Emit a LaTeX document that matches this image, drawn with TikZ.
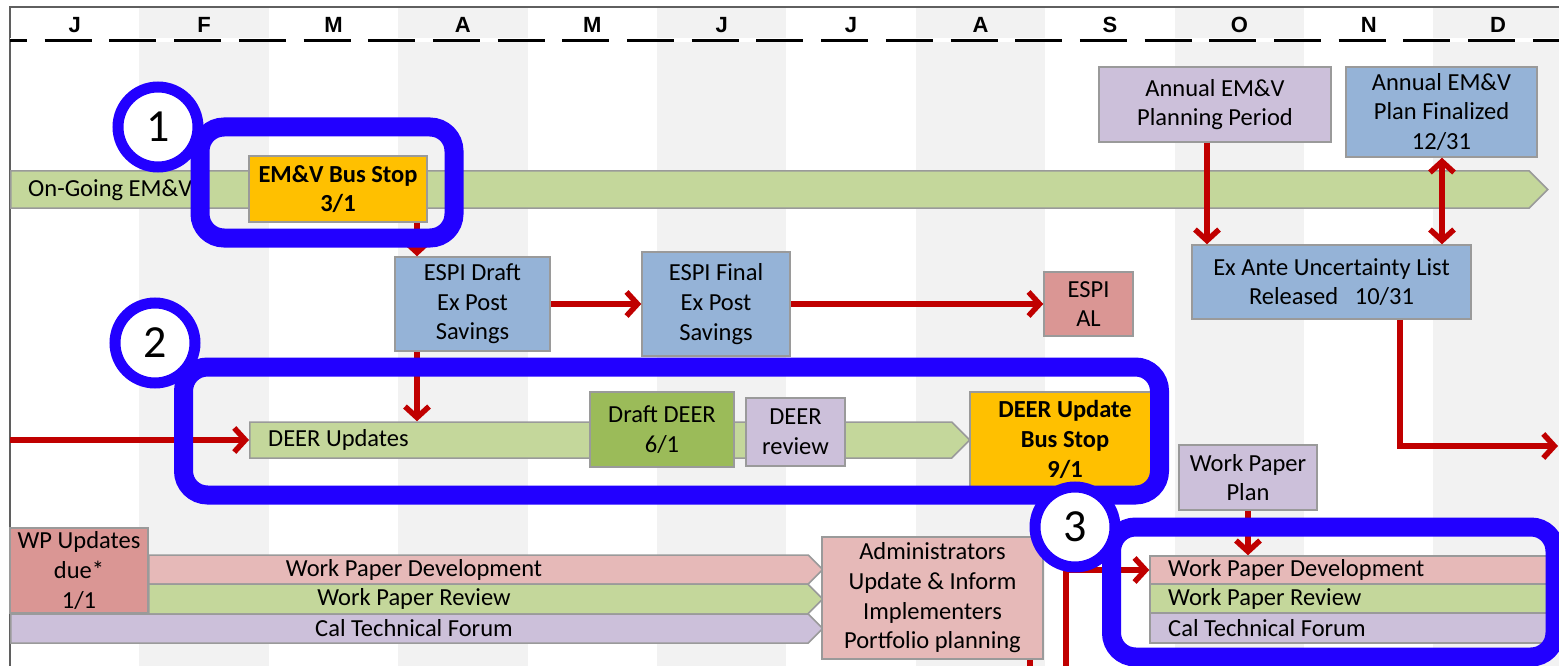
\documentclass[tikz,border=0pt]{standalone}
\usepackage{fontspec}
\setmainfont{Carlito}
\newfontfamily\hdrfont{Liberation Sans}
\usetikzlibrary{arrows.meta,shapes.symbols}

\definecolor{colgray}{HTML}{F2F2F2}
\definecolor{framegray}{HTML}{5F5F5F}
\definecolor{edgegray}{HTML}{9A9A9A}
\definecolor{barGreen}{HTML}{C4D79B}
\definecolor{boxOrange}{HTML}{FFC000}
\definecolor{boxBlue}{HTML}{95B3D7}
\definecolor{boxLav}{HTML}{CCC0DA}
\definecolor{boxPink}{HTML}{E6B9B8}
\definecolor{boxRose}{HTML}{DA9694}
\definecolor{boxOlive}{HTML}{9BBB59}
\definecolor{linkRed}{HTML}{C00000}
\definecolor{ringBlue}{HTML}{2200FF}

\tikzset{
  txt/.style={font=\fontsize{24.5}{29.7}\selectfont, text=black, inner sep=0pt},
  boldtxt/.style={font=\fontsize{24.5}{29.7}\selectfont\bfseries},
  box/.style={txt, draw=edgegray, line width=1.5pt, align=center},
  bar/.style={draw=edgegray, line width=1.5pt, inner sep=0pt, shape=signal,
    signal to=east, signal pointer angle=90, anchor=west},
  redline/.style={draw=linkRed, line width=5.5pt},
  link/.style={redline, -{Straight Barb[length=11pt,width=24pt]}},
  twolink/.style={redline, {Straight Barb[length=11pt,width=24pt]}-{Straight Barb[length=11pt,width=24pt]}},
  ring/.style={draw=ringBlue, line width=19pt, rounded corners=24pt},
  badge/.style={circle, fill=white, draw=ringBlue, line width=11pt, minimum size=80pt,
    inner sep=0pt, font=\fontsize{46}{46}\selectfont},
  month/.style={font=\hdrfont\bfseries\fontsize{22}{22}\selectfont, inner sep=0pt}
}

\begin{document}
\begin{tikzpicture}[x=1pt,y=-1pt]
\useasboundingbox (0,0) rectangle (1559,666);
\clip (0,0) rectangle (1559,666);

% month columns
\foreach \i in {1,3,5,7,9,11}
  \fill[colgray] ({10+129.4*\i},7) rectangle ({10+129.4*(\i+1)},666);

% frame
\draw[framegray, line width=2pt] (10,666) -- (10,7) -- (1559,7);

% month header
\draw[white, line width=4pt] (10,40.5) -- (1559,40.5);
\draw[black, line width=3pt, dash pattern=on 47pt off 17.7pt, dash phase=30pt] (10,40.5) -- (1559,40.5);
\foreach \m [count=\i from 0] in {J,F,M,A,M,J,J,A,S,O,N,D}
  \node[month] (mon\i) at ({10+129.4*(\i+0.5)},25) {\m};

% EM&V track
\node[bar, fill=barGreen, minimum width=1537pt, minimum height=37pt] (ongoing) at (10,189.5) {};
\node[txt, anchor=west] (ongoingtxt) at (28,190) {On-Going EM\&V};
\node[box, boldtxt, fill=boxOrange, minimum width=178pt, minimum height=66pt] (busstop) at (338,189) {EM\&V Bus Stop\\3/1};

\node[box, fill=boxBlue, minimum width=155pt, minimum height=94pt] (espidraft) at (472.5,304) {ESPI Draft\\Ex Post\\Savings};
\node[box, fill=boxBlue, minimum width=148pt, minimum height=104pt] (espifinal) at (716,304) {ESPI Final\\Ex Post\\Savings};
\node[box, fill=boxRose, minimum width=89pt, minimum height=64pt] (espial) at (1088.5,304) {ESPI\\AL};

\node[box, fill=boxLav, minimum width=232pt, minimum height=75pt] (planperiod) at (1215,104.5) {Annual EM\&V\\Planning Period};
\node[box, fill=boxBlue, minimum width=191pt, minimum height=90pt] (planfinal) at (1441.5,112) {Annual EM\&V\\Plan Finalized\\12/31};
\node[box, fill=boxBlue, minimum width=279pt, minimum height=74pt] (exante) at (1331.5,282) {Ex Ante Uncertainty List\\Released~~~10/31};

% DEER track
\node[bar, fill=barGreen, minimum width=720pt, minimum height=36pt] (deerupd) at (249,440) {};
\node[txt, anchor=west] (deertxt) at (268,440) {DEER Updates};
\node[box, fill=boxOlive, minimum width=144pt, minimum height=75pt] (draftdeer) at (662,429.5) {Draft DEER\\6/1};
\node[box, fill=boxLav, minimum width=99pt, minimum height=68pt] (deerreview) at (795.5,432) {DEER\\review};
\node[box, boldtxt, fill=boxOrange, minimum width=190pt, minimum height=95pt] (deerbus) at (1065,439.5) {DEER Update\\Bus Stop\\9/1};

% work paper track (left)
\node[box, fill=boxRose, minimum width=138pt, minimum height=85pt] (wpdue) at (79,570.5) {WP Updates\\due*\\1/1};
\node[bar, fill=boxPink, minimum width=674pt, minimum height=29pt] (lwpd) at (148,569.5) {};
\node[bar, fill=barGreen, minimum width=674pt, minimum height=30pt] (lwpr) at (148,599) {};
\node[bar, fill=boxLav, minimum width=812pt, minimum height=29pt] (lctf) at (10,628.5) {};
\node[txt] (lwpdtxt) at (414,569.5) {Work Paper Development};
\node[txt] (lwprtxt) at (414,599) {Work Paper Review};
\node[txt] (lctftxt) at (414,628.5) {Cal Technical Forum};
\node[box, fill=boxPink, minimum width=221pt, minimum height=122pt] (admin) at (932.5,598) {Administrators\\Update \& Inform\\Implementers\\Portfolio planning};

% work paper track (right)
\node[box, fill=boxLav, minimum width=138pt, minimum height=65pt] (wpplan) at (1248,477.5) {Work Paper\\Plan};
\node[box, fill=boxPink, minimum width=399pt, minimum height=28pt] (rwpd) at (1349.5,570) {};
\node[box, fill=barGreen, minimum width=399pt, minimum height=29pt] (rwpr) at (1349.5,598.5) {};
\node[box, fill=boxLav, minimum width=399pt, minimum height=30pt] (rctf) at (1349.5,628) {};
\node[txt, anchor=west] (rwpdtxt) at (1168,570) {Work Paper Development};
\node[txt, anchor=west] (rwprtxt) at (1168,598.5) {Work Paper Review};
\node[txt, anchor=west] (rctftxt) at (1168,628) {Cal Technical Forum};

% connectors
\coordinate (xa) at (417,0);
\coordinate (xb) at (1207,0);
\coordinate (xc) at (1442,0);
\coordinate (xd) at (1400,0);
\coordinate (xe) at (1248,0);
\coordinate (leftin) at (10,440);
\coordinate (rightout) at (1558,446);
\coordinate (botin) at (1066,670);
\coordinate (botout) at (1030,670);

\draw[link] (busstop.south -| xa) -- (espidraft.north -| xa);
\draw[link] (espidraft.south -| xa) -- (deerupd.north -| xa);
\draw[link] (espidraft.east) -- (espifinal.west);
\draw[link] (espifinal.east) -- (espial.west);
\draw[link] (leftin) -- (deerupd.west);
\draw[link] (planperiod.south -| xb) -- (exante.north -| xb);
\draw[twolink] (planfinal.south -| xc) -- (exante.north -| xc);
\draw[link] (exante.south -| xd) |- (rightout);
\draw[link] (wpplan.south -| xe) -- (rwpd.north -| xe);
\draw[link] (botin) |- (rwpd.west);
\draw[redline] (admin.south -| botout) -- (botout);

% highlight rings and badges
\draw[ring] (200,127) rectangle (454,238);
\draw[ring] (183.5,367) rectangle (1159.5,495);
\draw[ring] (1111.5,527) rectangle (1555,657);
\node[badge] (badge1) at (158,127) {1};
\node[badge] (badge2) at (155,343) {2};
\node[badge] (badge3) at (1075,527) {3};
\end{tikzpicture}
\end{document}
